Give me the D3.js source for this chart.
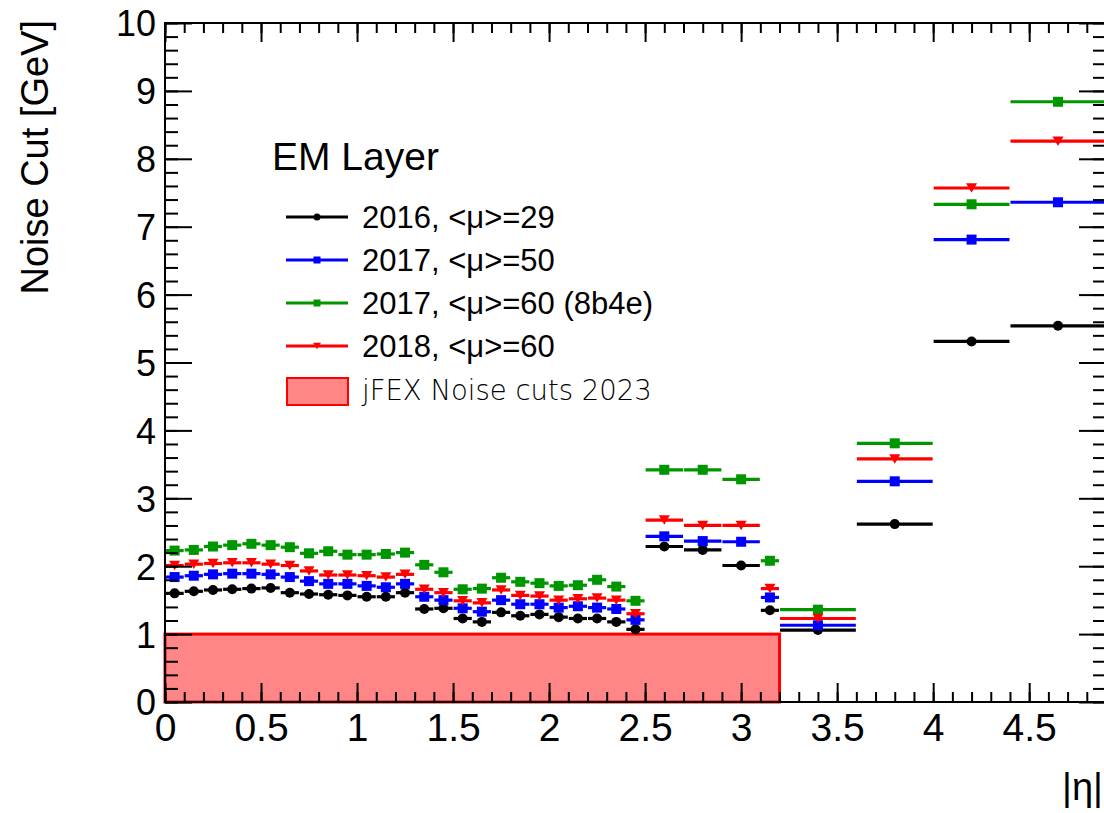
<!DOCTYPE html>
<html>
<head>
<meta charset="utf-8">
<script src="https://cdn.jsdelivr.net/npm/d3@7"></script>
<style>
  body { margin: 0; background: #fff; }
  svg { display: block; }
  .tick-label { font-family: "Liberation Sans", Arial, sans-serif; font-size: 36px; fill: #000; }
  .x-label { font-size: 39px; }
  .axis-title { font-family: "Liberation Sans", Arial, sans-serif; font-size: 38px; fill: #000; }
  .legend-text { font-family: "Liberation Sans", Arial, sans-serif; font-size: 31px; fill: #000; }
</style>
</head>
<body>
<div id="chart"></div>
<script>
// eta bin edges (variable width)
const binEdges = [0, 0.1, 0.2, 0.3, 0.4, 0.5, 0.6, 0.7, 0.8, 0.9, 1.0,
  1.1, 1.2, 1.3, 1.4, 1.5, 1.6, 1.7, 1.8, 1.9, 2.0,
  2.1, 2.2, 2.3, 2.4, 2.5, 2.7, 2.9, 3.1, 3.2, 3.6, 4.0, 4.4, 4.9];

// noise cut per bin [GeV]
const cuts2016mu29 = [1.60, 1.63, 1.65, 1.66, 1.67, 1.68, 1.61, 1.59, 1.58, 1.57,
  1.55, 1.55, 1.61, 1.37, 1.38, 1.23, 1.18, 1.32, 1.27, 1.29,
  1.25, 1.23, 1.23, 1.18, 1.07,
  2.29, 2.24, 2.01, 1.35,
  1.06, 2.62, 5.31, 5.54];
const cuts2017mu50 = [1.84, 1.86, 1.88, 1.89, 1.89, 1.88, 1.84, 1.78, 1.74, 1.74,
  1.71, 1.69, 1.74, 1.55, 1.50, 1.38, 1.33, 1.50, 1.44, 1.44,
  1.39, 1.41, 1.39, 1.37, 1.21,
  2.44, 2.37, 2.36, 1.54,
  1.13, 3.25, 6.81, 7.36];
const cuts2017mu60 = [2.23, 2.24, 2.29, 2.31, 2.33, 2.31, 2.28, 2.19, 2.22, 2.17,
  2.17, 2.18, 2.20, 2.02, 1.91, 1.66, 1.67, 1.83, 1.77, 1.75,
  1.71, 1.72, 1.80, 1.70, 1.49,
  3.42, 3.42, 3.28, 2.08,
  1.36, 3.81, 7.33, 8.84];
const cuts2018mu60 = [2.01, 2.03, 2.04, 2.05, 2.05, 2.03, 2.01, 1.93, 1.87, 1.87,
  1.86, 1.84, 1.88, 1.66, 1.61, 1.49, 1.46, 1.65, 1.57, 1.56,
  1.50, 1.52, 1.53, 1.50, 1.30,
  2.68, 2.60, 2.60, 1.67,
  1.23, 3.58, 7.57, 8.26];

const seriesNames = ["2016, <\u03bc>=29", "2017, <\u03bc>=50", "2017, <\u03bc>=60 (8b4e)", "2018, <\u03bc>=60"];
const seriesColors = ["#000000", "#0000ff", "#009600", "#ff0000"];
const seriesMarkers = ["circle", "square", "square", "triangleDown"];

// jFEX noise cut box: eta range and cut value
const jfexEta = [0, 3.2];
const jfexCut = 1;
const jfexLabel = "jFEX Noise cuts 2023";

const xTicks = [0, 0.5, 1, 1.5, 2, 2.5, 3, 3.5, 4, 4.5];
const yTicks = [0, 1, 2, 3, 4, 5, 6, 7, 8, 9, 10];

class NoisePlot {
  constructor(_config) {
    this.config = {
      parentElement: _config.parentElement,
      containerWidth: 1104,
      containerHeight: 813,
      margin: {top: 23, right: -2, bottom: 111, left: 165}
    };
    this.data = [cuts2016mu29, cuts2017mu50, cuts2017mu60, cuts2018mu60].map((vals, i) => ({
      name: seriesNames[i],
      color: seriesColors[i],
      marker: seriesMarkers[i],
      bins: vals.map((v, j) => ({lo: binEdges[j], hi: binEdges[j + 1], v: v}))
    }));
    this.initVis();
  }

  initVis() {
    let vis = this;
    vis.width = vis.config.containerWidth - vis.config.margin.left - vis.config.margin.right;
    vis.height = vis.config.containerHeight - vis.config.margin.top - vis.config.margin.bottom;

    vis.xScale = d3.scaleLinear().domain([0, 4.9]).range([0, vis.width]);
    vis.yScale = d3.scaleLinear().domain([0, 10]).range([vis.height, 0]);

    vis.svg = d3.select(vis.config.parentElement).append('svg')
        .attr('width', vis.config.containerWidth)
        .attr('height', vis.config.containerHeight);

    vis.chart = vis.svg.append('g')
        .attr('transform', `translate(${vis.config.margin.left},${vis.config.margin.top})`);

    vis.renderVis();
  }

  marker(g, type, x, y, s, color) {
    if (type === 'circle') {
      g.append('circle').attr('cx', x).attr('cy', y).attr('r', s / 2).attr('fill', color);
    } else if (type === 'square') {
      g.append('rect').attr('x', x - s / 2).attr('y', y - s / 2)
          .attr('width', s).attr('height', s).attr('fill', color);
    } else {
      const h = s * 0.95;
      g.append('path')
          .attr('d', `M${x - s / 2 - 0.5},${y - h / 2}L${x + s / 2 + 0.5},${y - h / 2}L${x},${y + h / 2}Z`)
          .attr('fill', color);
    }
  }

  renderVis() {
    let vis = this;
    const x = vis.xScale, y = vis.yScale;

    // jFEX box
    vis.chart.append('rect')
        .attr('x', x(jfexEta[0]))
        .attr('y', y(jfexCut))
        .attr('width', x(jfexEta[1]) - x(jfexEta[0]))
        .attr('height', y(0) - y(jfexCut))
        .attr('fill', '#ff8686')
        .attr('stroke', '#ff0000')
        .attr('stroke-width', 3);

    // histograms: horizontal bin-width bars + markers
    vis.data.forEach(s => {
      const g = vis.chart.append('g').attr('class', 'series');
      g.selectAll('line')
          .data(s.bins)
        .join('line')
          .attr('x1', d => x(d.lo) + 0.5)
          .attr('x2', d => x(d.hi) - 0.5)
          .attr('y1', d => y(d.v))
          .attr('y2', d => y(d.v))
          .attr('stroke', s.color)
          .attr('stroke-width', 3.2);
      s.bins.forEach(d => vis.marker(g, s.marker, x((d.lo + d.hi) / 2), y(d.v), 10, s.color));
    });

    // axes with major and minor ticks on all four sides
    const xMinor = d3.range(0, 4.91, 0.1).map(v => +v.toFixed(1));
    const yMinor = d3.range(0, 10.01, 0.2).map(v => +v.toFixed(1));

    const axisStyle = sel => {
      sel.select('.domain').remove();
      sel.selectAll('line').attr('stroke', '#000').attr('stroke-width', 2);
    };

    vis.chart.append('g').attr('transform', `translate(0,${vis.height})`)
        .call(d3.axisBottom(x).tickValues(xMinor).tickSize(-10).tickFormat(''))
        .call(axisStyle);
    vis.chart.append('g').attr('transform', `translate(0,${vis.height})`)
        .call(d3.axisBottom(x).tickValues(xTicks).tickSize(-19).tickFormat(d3.format('')))
        .call(axisStyle)
        .selectAll('text').attr('class', 'tick-label x-label').attr('font-size', null).attr('font-family', null)
        .attr('dy', '0.71em').attr('y', 11);
    vis.chart.append('g')
        .call(d3.axisTop(x).tickValues(xMinor).tickSize(-10).tickFormat(''))
        .call(axisStyle);
    vis.chart.append('g')
        .call(d3.axisTop(x).tickValues(xTicks).tickSize(-19).tickFormat(''))
        .call(axisStyle);

    vis.chart.append('g')
        .call(d3.axisLeft(y).tickValues(yMinor).tickSize(-13).tickFormat(''))
        .call(axisStyle);
    vis.chart.append('g')
        .call(d3.axisLeft(y).tickValues(yTicks).tickSize(-27).tickPadding(0).tickFormat(d3.format('')))
        .call(axisStyle)
        .selectAll('text').attr('class', 'tick-label').attr('font-size', null).attr('font-family', null)
        .attr('x', -9).attr('dy', '0.36em');
    vis.chart.append('g').attr('transform', `translate(${vis.width},0)`)
        .call(d3.axisRight(y).tickValues(yMinor).tickSize(-13).tickFormat(''))
        .call(axisStyle);
    vis.chart.append('g').attr('transform', `translate(${vis.width},0)`)
        .call(d3.axisRight(y).tickValues(yTicks).tickSize(-27).tickFormat(''))
        .call(axisStyle);

    // frame
    vis.chart.append('rect')
        .attr('width', vis.width).attr('height', vis.height)
        .attr('fill', 'none').attr('stroke', '#000').attr('stroke-width', 2);

    // axis titles
    vis.svg.append('text')
        .attr('class', 'axis-title')
        .attr('transform', 'translate(48,20) rotate(-90)')
        .attr('text-anchor', 'end')
        .text('Noise Cut [GeV]');
    vis.svg.append('text')
        .attr('class', 'axis-title')
        .attr('x', 1103).attr('y', 800)
        .attr('text-anchor', 'end')
        .text('|\u03b7|');

    // legend
    const leg = vis.svg.append('g');
    leg.append('text')
        .attr('x', 272).attr('y', 170)
        .style('font-family', '"Liberation Sans", Arial, sans-serif')
        .style('font-size', '39px')
        .text('EM Layer');
    vis.data.forEach((s, i) => {
      const cy = 217 + i * 43;
      leg.append('line')
          .attr('x1', 286).attr('x2', 348).attr('y1', cy).attr('y2', cy)
          .attr('stroke', s.color).attr('stroke-width', 3);
      vis.marker(leg, s.marker, 317, cy, 7, s.color);
      leg.append('text').attr('class', 'legend-text')
          .attr('x', 362).attr('y', cy + 11)
          .text(s.name);
    });
    leg.append('rect')
        .attr('x', 287).attr('y', 378).attr('width', 61).attr('height', 27)
        .attr('fill', '#ff8686').attr('stroke', '#ff0000').attr('stroke-width', 2);
    leg.append('text')
        .attr('x', 362).attr('y', 400)
        .style('font-family', '"DejaVu Sans", sans-serif')
        .style('font-size', '27.5px')
        .style('font-weight', 300)
        .text(jfexLabel);
  }
}

new NoisePlot({parentElement: '#chart'});
</script>
</body>
</html>
